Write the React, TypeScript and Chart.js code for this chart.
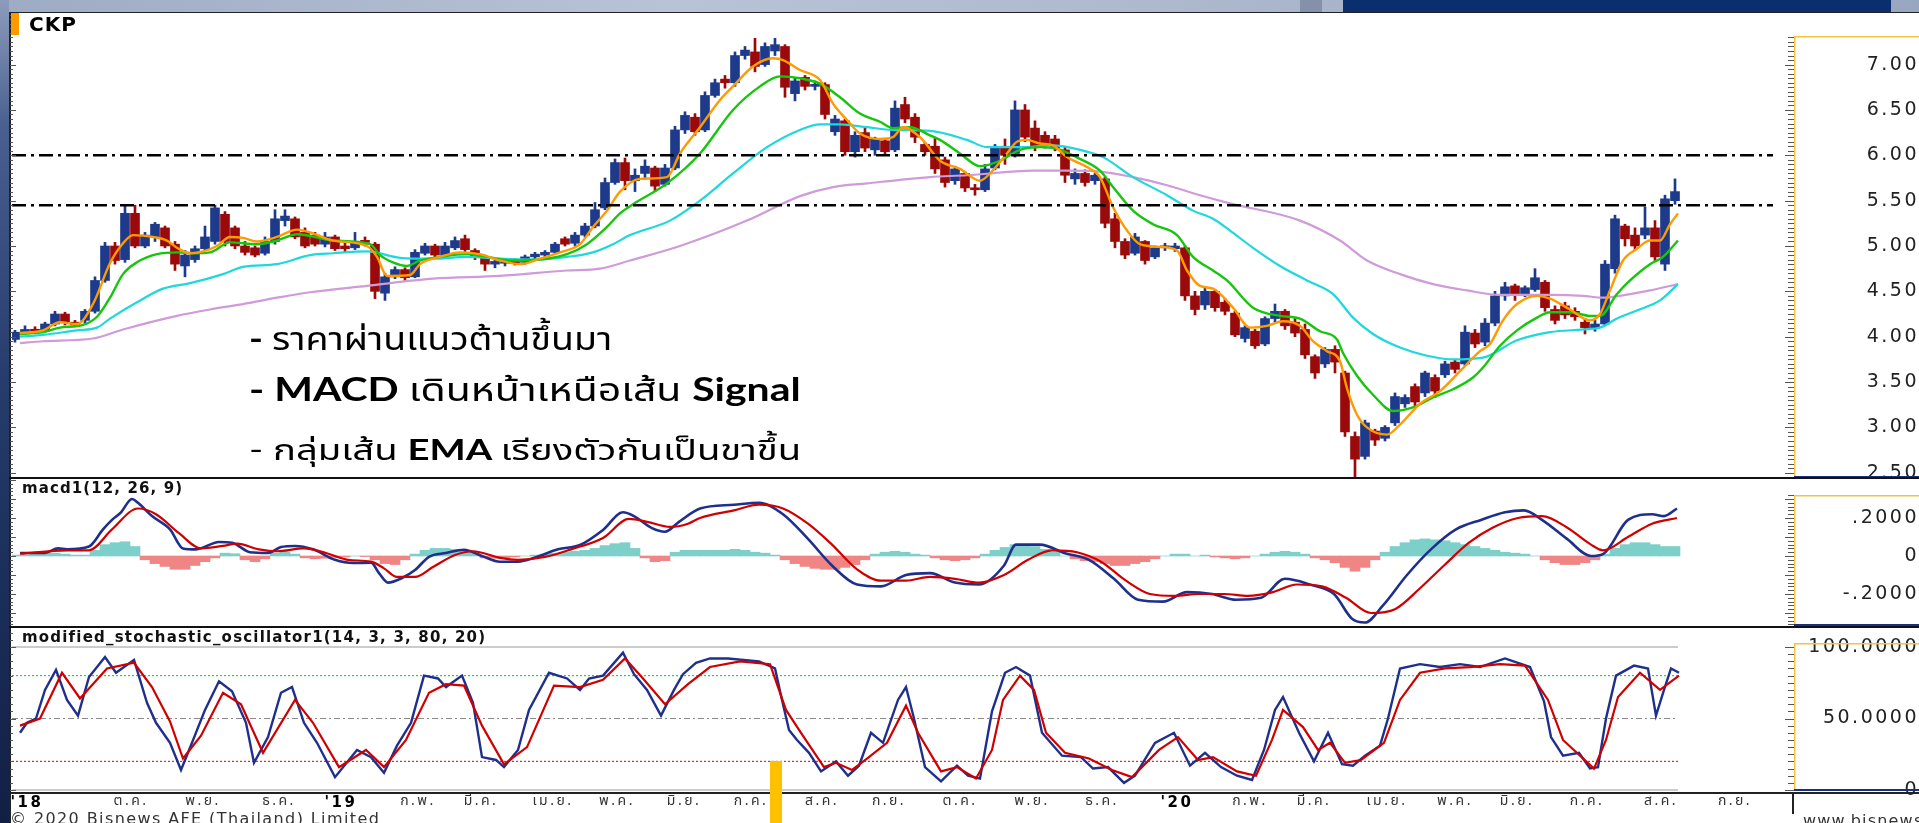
import React, { useEffect, useRef } from 'react';
import { Chart, registerables } from 'chart.js';

Chart.register(...registerables);

// ---------------- DATA ----------------
// candles: one candle per slot (slot ≈ 3 trading days), slot index = position on time axis
const candleOpen = [
  3.97, 4.05, 4.08, 4.06, 4.14, 4.25, 4.16, 4.18, 4.28, 4.62,
  5.0, 4.85, 5.36, 5.0, 5.1, 5.2, 5.02, 4.78, 4.85, 4.97,
  5.05, 5.35, 5.2, 5.0, 4.98, 4.92, 5.05, 5.28, 5.3, 5.15,
  5.12, 5.02, 5.1, 5.0, 4.98, 5.06, 5.02, 4.48, 4.66, 4.74,
  4.66, 4.92, 5.0, 4.9, 4.98, 5.08, 4.95, 4.88, 4.8, 4.81,
  4.84, 4.82, 4.88, 4.9, 4.93, 5.08, 5.03, 5.12, 5.22, 5.42,
  5.7, 5.92, 5.72, 5.8, 5.86, 5.68, 5.86, 6.28, 6.42, 6.28,
  6.66, 6.84, 6.8, 7.1, 7.14, 7.0, 7.15, 7.2, 6.68, 6.86,
  6.76, 6.78, 6.26, 6.38, 6.04, 6.25, 6.06, 6.16, 6.06, 6.56,
  6.42, 6.12, 6.1, 5.95, 5.72, 5.8, 5.64, 5.62, 5.86, 6.1,
  6.02, 6.5, 6.3, 6.22, 6.18, 6.06, 5.74, 5.8, 5.72, 5.74,
  5.3, 5.05, 4.92, 5.05, 4.88, 4.98, 4.97, 4.98, 4.45, 4.35,
  4.5, 4.38, 4.26, 3.98, 4.06, 3.92, 4.2, 4.28, 4.16, 4.08,
  3.78, 3.7, 3.86, 3.6, 2.9, 2.68, 2.96, 2.88, 3.05, 3.26,
  3.45, 3.38, 3.55, 3.58, 3.72, 3.7, 4.04, 3.94, 4.15, 4.45,
  4.56, 4.46, 4.52, 4.6, 4.3, 4.34, 4.28, 4.16, 4.1, 4.14,
  4.75, 5.22, 5.12, 5.12, 5.2, 4.8, 5.5,
];
const candleHigh = [
  4.07, 4.12, 4.11, 4.16, 4.28, 4.27, 4.18, 4.3, 4.66, 5.04,
  5.04, 5.45, 5.45, 5.15, 5.26, 5.22, 5.05, 4.95, 5.0, 5.22,
  5.45, 5.38, 5.22, 5.05, 5.0, 5.1, 5.4, 5.4, 5.32, 5.2,
  5.15, 5.15, 5.12, 5.05, 5.15, 5.1, 5.04, 4.7, 4.77, 4.76,
  4.96, 5.03, 5.02, 5.04, 5.1, 5.12, 4.97, 4.9, 4.86, 4.86,
  4.86, 4.9, 4.93, 4.95, 5.04, 5.1, 5.15, 5.25, 5.48, 5.75,
  5.96, 5.97, 5.85, 5.95, 5.88, 5.9, 6.32, 6.48, 6.46, 6.7,
  6.84, 6.88, 7.14, 7.2, 7.29, 7.24, 7.29, 7.22, 6.86, 6.88,
  6.82, 6.8, 6.44, 6.4, 6.26, 6.3, 6.2, 6.18, 6.6, 6.64,
  6.46, 6.14, 6.2, 5.98, 5.88, 5.82, 5.68, 5.9, 6.12, 6.18,
  6.6, 6.56, 6.38, 6.26, 6.22, 6.1, 5.85, 5.84, 5.8, 5.76,
  5.36, 5.08, 5.14, 5.06, 5.0, 5.03, 5.03, 5.0, 4.5, 4.55,
  4.52, 4.42, 4.28, 4.12, 4.08, 4.22, 4.36, 4.3, 4.2, 4.14,
  3.8, 3.88, 3.9, 3.62, 2.95, 3.08, 2.98, 3.02, 3.38, 3.36,
  3.48, 3.62, 3.58, 3.73, 3.74, 4.12, 4.08, 4.2, 4.5, 4.6,
  4.58, 4.56, 4.75, 4.62, 4.34, 4.38, 4.32, 4.2, 4.18, 4.84,
  5.34, 5.24, 5.2, 5.43, 5.28, 5.56, 5.74,
];
const candleLow = [
  3.94, 4.03, 4.04, 4.05, 4.12, 4.13, 4.11, 4.15, 4.26, 4.6,
  4.8, 4.82, 4.98, 4.98, 5.05, 4.98, 4.73, 4.66, 4.82, 4.95,
  5.02, 5.0, 4.97, 4.9, 4.88, 4.9, 5.02, 5.22, 5.08, 4.98,
  5.0, 4.99, 4.95, 4.93, 4.96, 5.0, 4.42, 4.4, 4.64, 4.62,
  4.65, 4.9, 4.87, 4.88, 4.96, 4.94, 4.85, 4.73, 4.76, 4.78,
  4.79, 4.8, 4.86, 4.88, 4.91, 5.0, 5.0, 5.1, 5.2, 5.4,
  5.68, 5.62, 5.6, 5.74, 5.6, 5.66, 5.84, 6.24, 6.22, 6.26,
  6.64, 6.74, 6.76, 7.06, 6.92, 6.98, 7.1, 6.64, 6.6, 6.72,
  6.72, 6.4, 6.22, 6.0, 5.98, 6.04, 6.0, 6.0, 6.04, 6.36,
  6.14, 6.0, 5.8, 5.65, 5.68, 5.6, 5.56, 5.6, 5.84, 5.9,
  5.98, 6.15, 6.05, 6.08, 6.05, 5.7, 5.68, 5.66, 5.68, 5.2,
  4.98, 4.86, 4.9, 4.8, 4.86, 4.95, 4.94, 4.4, 4.24, 4.3,
  4.28, 4.24, 4.0, 3.94, 3.87, 3.9, 4.16, 4.08, 4.0, 3.76,
  3.54, 3.66, 3.6, 2.9, 2.44, 2.65, 2.8, 2.85, 3.02, 3.22,
  3.24, 3.34, 3.33, 3.55, 3.6, 3.68, 3.88, 3.9, 4.12, 4.4,
  4.4, 4.44, 4.5, 4.28, 4.14, 4.2, 4.18, 4.03, 4.06, 4.12,
  4.7, 5.0, 4.96, 5.08, 4.84, 4.73, 5.46,
];
const candleClose = [
  4.05, 4.08, 4.06, 4.14, 4.25, 4.16, 4.13, 4.28, 4.62, 5.0,
  4.84, 5.36, 5.0, 5.12, 5.24, 5.0, 4.8, 4.9, 4.97, 5.1,
  5.42, 5.05, 5.0, 4.93, 4.9, 5.05, 5.3, 5.33, 5.1, 5.0,
  5.02, 5.1, 4.97, 4.97, 5.05, 5.04, 4.5, 4.66, 4.74, 4.65,
  4.93, 5.0, 4.9, 5.0, 5.06, 4.96, 4.88, 4.8, 4.83, 4.84,
  4.81, 4.88, 4.91, 4.93, 5.02, 5.02, 5.12, 5.22, 5.4, 5.7,
  5.92, 5.72, 5.78, 5.88, 5.66, 5.86, 6.28, 6.44, 6.26, 6.66,
  6.8, 6.8, 7.1, 7.16, 6.98, 7.2, 7.22, 6.75, 6.82, 6.76,
  6.78, 6.45, 6.4, 6.04, 6.22, 6.08, 6.18, 6.04, 6.52, 6.4,
  6.2, 6.04, 5.85, 5.7, 5.85, 5.64, 5.62, 5.85, 6.08, 6.0,
  6.5, 6.2, 6.1, 6.12, 6.08, 5.78, 5.8, 5.7, 5.78, 5.25,
  5.05, 4.9, 5.1, 4.84, 4.98, 5.0, 5.0, 4.45, 4.3, 4.5,
  4.32, 4.28, 4.02, 4.1, 3.9, 4.2, 4.28, 4.12, 4.04, 3.8,
  3.6, 3.86, 3.72, 2.95, 2.65, 3.05, 2.86, 3.0, 3.34, 3.33,
  3.28, 3.6, 3.4, 3.7, 3.64, 4.05, 3.92, 4.15, 4.45, 4.55,
  4.46, 4.54, 4.65, 4.32, 4.18, 4.24, 4.22, 4.1, 4.14, 4.8,
  5.3, 5.08, 5.0, 5.2, 4.88, 5.52, 5.6,
];

// moving averages: [time (slot units), price]
const emaFast = [
  [0.5, 4.04], [2.8, 4.07], [4.5, 4.16], [6.2, 4.14], [7.8, 4.36], [9.5, 4.81], [10.8, 5.03], [11.8, 5.12], [13.8, 5.1], [15.2, 5.06],
  [16.2, 4.98], [17.5, 4.92], [18.8, 4.94], [20.2, 5.0], [21.5, 5.1], [22.8, 5.09], [24.2, 5.05], [26.2, 5.1], [28.2, 5.18], [29.5, 5.15],
  [31.8, 5.06], [35.2, 5.0], [36.2, 4.88], [37.2, 4.67], [39.5, 4.68], [40.5, 4.8], [42.5, 4.88], [44.5, 4.93], [46.5, 4.91], [48.5, 4.84],
  [50.5, 4.8], [52.5, 4.86], [54.5, 4.93], [56.5, 5.02], [57.8, 5.21], [59.2, 5.39], [60.5, 5.6], [62.5, 5.74], [65.2, 5.76], [66.5, 6.02],
  [68.5, 6.31], [70.5, 6.61], [71.8, 6.76], [73.8, 6.98], [75.8, 7.07], [76.8, 7.05], [78.5, 6.94], [80.5, 6.83], [81.8, 6.57], [83.2, 6.39],
  [84.5, 6.24], [86.5, 6.18], [87.8, 6.2], [88.8, 6.31], [90.5, 6.2], [92.5, 5.94], [94.5, 5.85], [96.5, 5.72], [97.5, 5.8], [99.2, 6.02],
  [100.2, 6.15], [101.2, 6.17], [102.5, 6.13], [103.8, 6.11], [105.2, 5.98], [107.2, 5.87], [108.5, 5.76], [109.8, 5.43], [111.2, 5.17], [112.5, 5.02],
  [114.5, 4.99], [116.2, 4.95], [117.2, 4.73], [118.5, 4.56], [119.8, 4.53], [121.8, 4.32], [123.5, 4.1], [125.2, 4.12], [126.8, 4.17], [128.5, 4.12],
  [129.8, 3.95], [131.2, 3.84], [132.5, 3.73], [133.2, 3.43], [134.2, 3.14], [135.2, 3.0], [137.2, 2.92], [138.5, 3.03], [140.5, 3.26], [142.5, 3.4],
  [144.5, 3.62], [146.5, 3.84], [147.5, 3.92], [148.8, 4.18], [150.2, 4.36], [152.2, 4.45], [153.5, 4.42], [155.5, 4.3], [157.5, 4.18], [158.5, 4.25],
  [159.5, 4.51], [160.8, 4.84], [162.2, 4.97], [163.5, 5.06], [164.5, 5.06], [165.5, 5.24], [166.3, 5.36],
];
const emaMid = [
  [0.5, 4.03], [2.8, 4.05], [4.5, 4.1], [6.8, 4.13], [8.2, 4.22], [9.5, 4.43], [10.8, 4.69], [12.2, 4.82], [14.2, 4.91], [16.2, 4.93],
  [17.8, 4.92], [19.5, 4.93], [21.5, 5.04], [24.2, 5.02], [26.2, 5.06], [28.2, 5.13], [31.8, 5.06], [35.5, 5.02], [36.5, 4.9], [37.8, 4.82],
  [39.2, 4.78], [40.5, 4.84], [42.5, 4.88], [45.2, 4.91], [47.2, 4.88], [49.8, 4.84], [53.2, 4.86], [55.2, 4.91], [57.2, 5.02], [59.2, 5.21],
  [60.5, 5.36], [61.8, 5.46], [65.2, 5.69], [68.5, 6.02], [71.8, 6.5], [74.5, 6.76], [76.5, 6.87], [78.5, 6.85], [80.5, 6.79], [82.5, 6.64],
  [84.5, 6.46], [86.5, 6.37], [87.8, 6.3], [89.5, 6.31], [91.5, 6.22], [92.5, 6.17], [94.5, 6.02], [96.5, 5.88], [98.5, 5.94], [100.5, 6.06],
  [102.5, 6.09], [104.2, 6.07], [106.5, 5.96], [108.5, 5.83], [109.8, 5.65], [111.8, 5.39], [113.8, 5.24], [116.2, 5.12], [117.8, 4.88], [119.8, 4.73],
  [121.2, 4.62], [123.8, 4.32], [126.5, 4.23], [128.5, 4.2], [130.5, 4.06], [132.2, 3.97], [132.8, 3.82], [134.2, 3.57], [135.8, 3.36], [137.8, 3.18],
  [139.8, 3.22], [141.8, 3.33], [143.8, 3.42], [145.8, 3.55], [146.8, 3.66], [148.5, 3.9], [150.2, 4.07], [152.2, 4.21], [153.5, 4.27], [155.5, 4.27],
  [157.5, 4.23], [158.5, 4.23], [160.2, 4.47], [161.5, 4.62], [163.5, 4.8], [164.8, 4.88], [166.3, 5.06],
];
const emaSlow = [
  [0.5, 4.0], [2.8, 4.02], [6.2, 4.07], [8.2, 4.1], [9.5, 4.2], [12.2, 4.38], [14.8, 4.53], [17.5, 4.59], [20.8, 4.69], [22.8, 4.77],
  [26.2, 4.8], [29.5, 4.9], [31.8, 4.92], [35.2, 4.94], [38.5, 4.87], [41.8, 4.86], [45.2, 4.88], [48.5, 4.86], [51.8, 4.85], [55.2, 4.88],
  [57.8, 4.93], [59.8, 5.02], [61.5, 5.12], [65.5, 5.28], [68.5, 5.5], [71.8, 5.8], [75.2, 6.09], [78.5, 6.28], [80.5, 6.34], [82.5, 6.34],
  [85.2, 6.31], [87.8, 6.28], [91.5, 6.27], [95.2, 6.17], [97.2, 6.09], [100.5, 6.09], [103.8, 6.11], [106.5, 6.06], [108.8, 5.98], [111.8, 5.76],
  [115.2, 5.56], [117.8, 5.39], [119.8, 5.3], [121.5, 5.17], [123.8, 4.98], [126.5, 4.78], [129.2, 4.62], [131.8, 4.47], [133.8, 4.21], [135.8, 4.03],
  [138.5, 3.88], [141.2, 3.79], [143.8, 3.75], [146.8, 3.77], [150.2, 3.96], [153.5, 4.05], [156.8, 4.08], [158.5, 4.1], [160.2, 4.2], [162.2, 4.29],
  [164.5, 4.4], [166.3, 4.58],
];
const emaLong = [
  [0.5, 3.93], [2.8, 3.95], [7.8, 3.98], [10.8, 4.08], [16.2, 4.23], [19.5, 4.3], [22.8, 4.36], [26.2, 4.43], [29.5, 4.49], [35.2, 4.56],
  [41.8, 4.64], [48.5, 4.67], [55.2, 4.73], [58.5, 4.75], [61.5, 4.84], [66.5, 5.0], [73.2, 5.28], [78.5, 5.55], [81.8, 5.65], [85.2, 5.69],
  [88.5, 5.73], [91.5, 5.76], [95.2, 5.78], [101.8, 5.83], [105.2, 5.83], [108.5, 5.82], [111.8, 5.76], [115.2, 5.67], [118.5, 5.56], [121.5, 5.47],
  [128.5, 5.28], [132.5, 5.06], [135.2, 4.84], [138.5, 4.69], [141.8, 4.58], [145.2, 4.51], [148.5, 4.46], [153.5, 4.46], [156.8, 4.45], [158.8, 4.43],
  [161.5, 4.47], [163.5, 4.51], [166.3, 4.58],
];

const resistanceLevels = [6.0, 5.45];
const resistanceEnd = 175.8;
const priceTicks = [2.5, 3.0, 3.5, 4.0, 4.5, 5.0, 5.5, 6.0, 6.5, 7.0];

const macdLine = [
  [0.5, 0.016], [3, 0.016], [4.3, 0.04], [5.2, 0.035], [7.4, 0.05], [8.8, 0.14], [9.7, 0.19], [10.6, 0.23], [11.7, 0.3], [12.3, 0.28],
  [13.7, 0.21], [15.5, 0.14], [16.8, 0.04], [18.1, 0.035], [20.4, 0.074], [21.7, 0.07], [23.5, 0.02], [25.3, 0.016], [26.6, 0.047], [28, 0.053],
  [29.8, 0.035], [32, -0.02], [33.8, -0.037], [35.6, -0.035], [36.4, -0.09], [37.3, -0.14], [38.7, -0.116], [40, -0.074], [41.4, -0.004], [43.1, 0.016],
  [44.9, 0.033], [46.7, 0.0], [48.5, -0.03], [50.3, -0.03], [52.1, -0.006], [54.3, 0.035], [56.5, 0.058], [58.8, 0.137], [60.8, 0.23], [61.9, 0.21],
  [63.7, 0.147], [65, 0.128], [66.4, 0.18], [68.5, 0.25], [71.9, 0.27], [74.4, 0.28], [76.8, 0.22], [79.3, 0.09], [81.7, -0.05], [84.2, -0.15],
  [86.6, -0.16], [89.1, -0.1], [91.5, -0.09], [94, -0.14], [96.4, -0.15], [98.9, -0.05], [100.1, 0.06], [102.5, 0.06], [105, 0.015], [107.4, -0.02],
  [109.9, -0.12], [112.3, -0.23], [114.8, -0.24], [117.2, -0.19], [119.7, -0.2], [122.1, -0.23], [124.6, -0.22], [127, -0.12], [129.5, -0.15], [131.9, -0.2],
  [133.7, -0.33], [135, -0.35], [136.8, -0.26], [139.2, -0.1], [141.7, 0.04], [144.1, 0.14], [146.6, 0.19], [149, 0.23], [150.9, 0.24], [152.7, 0.19],
  [155.2, 0.09], [157.6, 0.0], [158.8, 0.01], [161.3, 0.19], [163.7, 0.22], [164.9, 0.21], [166.2, 0.25],
];
const macdSignal = [
  [0.5, 0.012], [5.2, 0.03], [7.4, 0.03], [9.7, 0.14], [12.3, 0.25], [14.1, 0.22], [16.4, 0.12], [18.6, 0.04], [20.8, 0.053], [22.2, 0.065],
  [24.4, 0.035], [26.2, 0.025], [28.9, 0.04], [31.1, 0.016], [33.3, -0.02], [35.6, -0.03], [36.9, -0.065], [38.2, -0.11], [40, -0.11], [41.8, -0.058],
  [44, 0.005], [45.8, 0.025], [48.5, -0.01], [50.3, -0.02], [53, -0.005], [55.6, 0.035], [58.8, 0.095], [61.4, 0.195], [63.2, 0.18], [65.5, 0.153],
  [67.3, 0.17], [68.5, 0.2], [71.9, 0.24], [74.4, 0.27], [76.8, 0.25], [79.3, 0.17], [81.7, 0.06], [84.2, -0.07], [86.6, -0.13], [89.1, -0.13],
  [91.5, -0.11], [94, -0.12], [96.4, -0.14], [98.9, -0.1], [101.3, -0.02], [103.7, 0.03], [106.2, 0.02], [108.6, -0.03], [111.1, -0.13], [113.5, -0.2],
  [116, -0.21], [118.4, -0.2], [120.9, -0.2], [123.3, -0.21], [125.8, -0.19], [128.2, -0.15], [130.7, -0.16], [133.1, -0.22], [135.6, -0.3], [138, -0.28],
  [140.5, -0.17], [142.9, -0.05], [145.4, 0.07], [147.8, 0.15], [150.3, 0.2], [152.7, 0.21], [155.2, 0.15], [157.6, 0.06], [158.8, 0.03], [161.3, 0.1],
  [163.7, 0.17], [166.2, 0.2],
];
const macdHist = [
  0.005, 0.005, 0.01, 0.015, 0.015, 0.01, 0.005, 0.005, 0.03, 0.06,
  0.07, 0.075, 0.05, -0.02, -0.04, -0.055, -0.07, -0.07, -0.05, -0.03,
  -0.01, 0.015, 0.012, -0.02, -0.03, -0.015, 0.015, 0.02, 0.01, -0.01,
  -0.015, -0.012, -0.008, -0.005, 0.0, -0.003, -0.02, -0.04, -0.045, -0.02,
  0.01, 0.03, 0.04, 0.04, 0.035, 0.025, 0.015, -0.01, -0.012, -0.01,
  -0.005, 0.0, 0.005, 0.01, 0.015, 0.02, 0.025, 0.03, 0.04, 0.055,
  0.065, 0.07, 0.04, -0.01, -0.03, -0.025, 0.02, 0.03, 0.03, 0.03,
  0.03, 0.03, 0.035, 0.03, 0.02, 0.015, 0.005, -0.02, -0.04, -0.055,
  -0.065, -0.07, -0.07, -0.06, -0.045, -0.02, 0.01, 0.02, 0.025, 0.02,
  0.01, 0.005, -0.01, -0.02, -0.025, -0.02, -0.01, 0.01, 0.03, 0.045,
  0.06, 0.06, 0.05, 0.035, 0.02, 0.0, -0.015, -0.025, -0.03, -0.04,
  -0.05, -0.05, -0.04, -0.03, -0.015, 0.0, 0.01, 0.01, 0.0, 0.005,
  -0.005, -0.01, -0.015, -0.01, 0.0, 0.01, 0.02, 0.025, 0.02, 0.01,
  -0.01, -0.02, -0.035, -0.06, -0.08, -0.06, -0.02, 0.02, 0.05, 0.07,
  0.085, 0.09, 0.085, 0.08, 0.07, 0.06, 0.05, 0.04, 0.03, 0.02,
  0.015, 0.01, 0.0, -0.02, -0.035, -0.045, -0.045, -0.035, -0.02, 0.01,
  0.04, 0.06, 0.07, 0.07, 0.06, 0.05, 0.05,
];
const macdTicks = [-0.2, 0, 0.2];

const stochK = [
  [0.5, 40], [1.2, 47], [2.1, 50], [3, 70], [4.1, 84], [5.2, 63], [6.3, 52], [7.4, 79], [9, 93], [10.1, 82],
  [11.9, 91], [13.2, 61], [14.1, 47], [15.5, 33], [16.6, 14], [17.7, 33], [19, 56], [20.4, 76], [21.7, 69], [23.1, 47],
  [23.9, 19], [25.3, 37], [26.6, 68], [27.7, 72], [28.9, 47], [30.2, 33], [32, 9], [34.2, 28], [35.6, 23], [36.9, 12],
  [38.2, 31], [39.6, 47], [40.9, 80], [42.3, 78], [43.1, 72], [44.7, 80], [45.8, 61], [46.7, 23], [48.1, 21], [48.9, 16],
  [50.3, 28], [51.4, 56], [53.4, 82], [55.2, 78], [56.5, 70], [57.4, 78], [58.8, 80], [60.8, 96], [61.9, 81], [63.2, 70],
  [64.6, 52], [65.9, 70], [66.8, 81], [68.1, 89], [69.5, 92], [71.3, 92], [74.4, 90], [76, 85], [76.7, 63], [77.4, 42],
  [78.2, 35], [79.4, 26], [80.6, 13], [82.1, 20], [83.3, 10], [84.4, 17], [85.6, 40], [86.8, 33], [88.3, 63], [89.1, 72],
  [89.9, 50], [91, 16], [92.6, 6], [94.2, 17], [95.3, 10], [96.5, 8], [97.7, 55], [99, 82], [100.1, 86], [101.5, 80],
  [102.7, 40], [104.7, 24], [106.6, 23], [107.8, 15], [109.3, 16], [110.9, 5], [112, 10], [114, 33], [115.9, 40], [117.5, 17],
  [119, 26], [120.6, 16], [122.2, 10], [123.7, 7], [124.9, 28], [126, 56], [126.8, 65], [128.4, 40], [129.9, 20], [131.3, 40],
  [132.7, 18], [133.8, 17], [135, 24], [136.5, 31], [137.3, 50], [138.5, 85], [140.5, 88], [142.5, 86], [144.5, 88], [146.5, 86],
  [149, 92], [151.5, 86], [152.9, 62], [153.6, 37], [154.8, 24], [156.4, 26], [157.5, 15], [158.3, 16], [159.1, 50], [160.1, 80],
  [161.9, 87], [163.3, 85], [164.1, 52], [164.9, 70], [165.6, 85], [166.4, 82],
];
const stochD = [
  [0.5, 45], [2.5, 50], [4.7, 82], [6.5, 64], [9.2, 85], [11.9, 89], [13.7, 72], [15.5, 48], [16.8, 22], [18.6, 38],
  [20.8, 68], [22.6, 60], [24.8, 26], [28, 63], [29.8, 47], [32.4, 16], [35.1, 28], [36.9, 16], [39.1, 35], [41.4, 68],
  [43.1, 74], [44.9, 73], [46.7, 45], [48.9, 18], [51.2, 30], [53.9, 73], [56.5, 72], [58.8, 77], [61, 92], [62.8, 78],
  [65, 60], [67.3, 74], [69.5, 86], [72.5, 90], [75.5, 88], [77.1, 56], [78.6, 40], [80.9, 16], [82.1, 19], [83.7, 14],
  [85.2, 22], [87.2, 33], [89.1, 59], [90.3, 40], [92.6, 13], [94.2, 16], [96.1, 8], [97.7, 28], [98.8, 63], [100.5, 80],
  [101.9, 70], [103.1, 40], [105, 26], [107.4, 22], [109.7, 14], [111.7, 9], [114.4, 28], [116.3, 37], [118.3, 21], [119.8, 23],
  [122.2, 13], [124.1, 10], [125.7, 35], [126.8, 56], [128.8, 44], [130.3, 28], [131.5, 33], [133, 19], [134.6, 21], [136.9, 33],
  [138.5, 63], [140.5, 82], [143, 85], [145.5, 86], [148.5, 88], [151, 87], [153.3, 63], [154.8, 35], [157.9, 15], [159.1, 35],
  [160.3, 65], [162.5, 82], [164.5, 70], [166.4, 80],
];
const stochTicks = [0, 50, 100];
const stochLevels = [100, 80, 50, 20, 0];
const stochEnd = 166.3;

const monthLabels = ["'18", 'ต.ค.', 'พ.ย.', 'ธ.ค.', "'19", 'ก.พ.', 'มี.ค.', 'เม.ย.', 'พ.ค.', 'มิ.ย.', 'ก.ค.', 'ส.ค.', 'ก.ย.', 'ต.ค.', 'พ.ย.', 'ธ.ค.', "'20", 'ก.พ.', 'มี.ค.', 'เม.ย.', 'พ.ค.', 'มิ.ย.', 'ก.ค.', 'ส.ค.', 'ก.ย.'];
const monthPos = [1.2, 11.6, 18.8, 26.4, 32.6, 40.3, 46.6, 53.8, 60.2, 66.9, 73.6, 80.7, 87.4, 94.5, 101.7, 108.7, 116.2, 123.5, 129.9, 137.2, 144, 150.2, 157.2, 164.6, 172];

// ---------------- STYLE / LAYOUT ----------------
const X_MIN = -0.3;
const X_MAX = 177;
const THAI = "'Noto Sans Thai', 'Noto Sans Thai UI', Loma, Garuda, Waree, Umpush, Kinnari, sans-serif";
const AXIS_FONT = { family: 'DejaVu Sans', size: 19 };
const LETTER = 2.5;

function widest(labels: string[]) {
  const c = document.createElement('canvas').getContext('2d') as CanvasRenderingContext2D;
  c.font = `${AXIS_FONT.size}px ${AXIS_FONT.family}`;
  return Math.max(...labels.map((l) => c.measureText(l).width));
}

function rightAxis(min: number, max: number, tickVals: number[], fmt: (v: number) => string) {
  const w = widest(tickVals.map(fmt));
  return {
    type: 'linear',
    position: 'right',
    min,
    max,
    grid: { display: false, drawTicks: false },
    border: { display: false },
    afterFit: (s: any) => {
      s.width = 134;
      s.paddingTop = 0;
      s.paddingBottom = 0;
    },
    afterBuildTicks: (s: any) => { s.ticks = tickVals.map((v) => ({ value: v })); },
    ticks: { crossAlign: 'far', padding: 131 - w, font: AXIS_FONT, color: '#222', callback: (v: any) => fmt(Number(v)) },
  };
}

function hiddenX() {
  return { type: 'linear', min: X_MIN, max: X_MAX, offset: false, display: false, grid: { display: false } };
}

const spacingPlugin = {
  id: 'letterSpacing',
  beforeDraw(chart: any) { chart.ctx.letterSpacing = LETTER + 'px'; },
  afterDraw(chart: any) { chart.ctx.letterSpacing = '0px'; },
};

function edgeDeco(step: number, major: number, frameTop: number) {
  return {
    id: 'edgeDeco',
    afterDraw(chart: any) {
      const { ctx, chartArea: ca, width } = chart;
      const ys = chart.scales.y;
      ctx.save();
      ctx.strokeStyle = '#555';
      ctx.lineWidth = 1;
      const i0 = Math.ceil(ys.min / step - 1e-9);
      const i1 = Math.floor(ys.max / step + 1e-9);
      ctx.beginPath();
      for (let i = i0; i <= i1; i++) {
        const v = i * step;
        const y = Math.round(ys.getPixelForValue(v)) + 0.5;
        const isMajor = Math.abs(Math.round(v / major) * major - v) < step / 10;
        ctx.moveTo(0, y);
        ctx.lineTo(isMajor ? 6 : 3, y);
        if (y >= frameTop && y <= ca.bottom) {
          ctx.moveTo(ca.right + (isMajor ? 0 : 3), y);
          ctx.lineTo(ca.right + 9, y);
        }
      }
      ctx.stroke();
      ctx.strokeStyle = '#f2c440';
      ctx.lineWidth = 1.5;
      ctx.beginPath();
      ctx.moveTo(ca.right + 9.75, frameTop);
      ctx.lineTo(ca.right + 9.75, ca.bottom);
      ctx.moveTo(ca.right + 9, frameTop + 0.75);
      ctx.lineTo(width, frameTop + 0.75);
      ctx.stroke();
      ctx.strokeStyle = '#1b2f7a';
      ctx.lineWidth = 2;
      ctx.beginPath();
      ctx.moveTo(ca.right + 9, ca.bottom - 1);
      ctx.lineTo(width, ca.bottom - 1);
      ctx.stroke();
      ctx.restore();
    },
  };
}

function lineDs(pts: number[][], color: string, width: number, extra: any = {}) {
  return {
    type: 'line',
    data: pts.map(([x, y]) => ({ x, y })),
    borderColor: color,
    borderWidth: width,
    pointRadius: 0,
    fill: false,
    cubicInterpolationMode: 'monotone',
    ...extra,
  };
}

const baseOptions = {
  responsive: false,
  maintainAspectRatio: false,
  animation: false,
  devicePixelRatio: 1,
  events: [],
  plugins: { legend: { display: false }, tooltip: { enabled: false } },
};

export default function App() {
  const aRef = useRef<HTMLCanvasElement>(null);
  const bRef = useRef<HTMLCanvasElement>(null);
  const cRef = useRef<HTMLCanvasElement>(null);

  useEffect(() => {
    Chart.defaults.font.family = 'DejaVu Sans';
    const charts: any[] = [];

    // ---- price panel ----
    const candleColor = candleOpen.map((o, i) => {
      const c = candleClose[i];
      if (Math.abs(c - o) < 0.005) return '#4a4a4a';
      return c > o ? '#1e3a8a' : '#9a0a0a';
    });
    const bodies = candleOpen.map((o, i) => ({ x: i, y: [o, candleClose[i]] }));
    const wicks = candleLow.map((l, i) => ({ x: i, y: [l, candleHigh[i]] }));
    charts.push(
      new Chart(aRef.current as HTMLCanvasElement, {
        type: 'bar',
        data: {
          datasets: [
            ...resistanceLevels.map((lv) =>
              lineDs([[X_MIN, lv], [resistanceEnd, lv]], '#000', 2.5, { borderDash: [14, 5, 3, 5], cubicInterpolationMode: 'default' })
            ),
            lineDs(emaFast, '#ff9a00', 2.4),
            lineDs(emaMid, '#16c60c', 2.4),
            lineDs(emaSlow, '#1dd8dc', 2.2),
            lineDs(emaLong, '#cf9bd8', 2.2),
            { type: 'bar', data: bodies, backgroundColor: candleColor, barThickness: 9, grouped: false, minBarLength: 2 },
            { type: 'bar', data: wicks, backgroundColor: candleColor, barThickness: 2, grouped: false },
          ],
        } as any,
        options: {
          ...baseOptions,
          layout: { padding: { left: 2, right: 0, top: 0, bottom: 0 } },
          scales: {
            x: hiddenX(),
            y: rightAxis(2.442, 7.569, priceTicks, (v) => v.toFixed(2)),
          },
        } as any,
        plugins: [spacingPlugin, edgeDeco(0.05, 0.5, 23)],
      })
    );

    // ---- MACD panel ----
    const histColor = macdHist.map((v) => (v >= 0 ? '#7dcfca' : '#f08585'));
    charts.push(
      new Chart(bRef.current as HTMLCanvasElement, {
        type: 'bar',
        data: {
          datasets: [
            lineDs(macdSignal, '#d00000', 2.2),
            lineDs(macdLine, '#1f2f8c', 2.6),
            { type: 'bar', data: macdHist.map((v, i) => ({ x: i, y: v })), backgroundColor: histColor, barThickness: 10, grouped: false },
          ],
        } as any,
        options: {
          ...baseOptions,
          layout: { padding: { left: 2, right: 0, top: 0, bottom: 0 } },
          scales: {
            x: hiddenX(),
            y: rightAxis(-0.3684, 0.4, macdTicks, (v) =>
              v === 0 ? '0' : (v < 0 ? '-' : '') + Math.abs(v).toFixed(4).replace(/^0/, '')
            ),
          },
        } as any,
        plugins: [spacingPlugin, edgeDeco(0.02, 0.1, 15)],
      })
    );

    // ---- stochastic panel ----
    const levelStyle: Record<number, any> = {
      100: { color: '#9a9a9a', dash: [] },
      80: { color: '#22dd22', dash: [2, 2] },
      50: { color: '#8a8a8a', dash: [6, 3, 2, 3] },
      20: { color: '#ff2020', dash: [2, 2] },
      0: { color: '#9a9a9a', dash: [] },
    };
    charts.push(
      new Chart(cRef.current as HTMLCanvasElement, {
        type: 'line',
        data: {
          datasets: [
            lineDs(stochD, '#d00000', 2.2, { cubicInterpolationMode: 'default' }),
            lineDs(stochK, '#1f2f8c', 2.4, { cubicInterpolationMode: 'default' }),
            ...stochLevels.map((lv) =>
              lineDs([[X_MIN, lv], [stochEnd, lv]], levelStyle[lv].color, 1.2, { borderDash: levelStyle[lv].dash, cubicInterpolationMode: 'default' })
            ),
          ],
        } as any,
        options: {
          ...baseOptions,
          layout: { padding: { left: 2, right: 0, top: 0, bottom: 0 } },
          scales: {
            x: {
              type: 'linear',
              min: X_MIN,
              max: X_MAX,
              offset: false,
              position: 'bottom',
              grid: { display: false, drawTicks: false },
              border: { display: false },
              afterBuildTicks: (s: any) => { s.ticks = monthPos.map((v) => ({ value: v })); },
              afterFit: (s: any) => {
                s.height = 22;
                s.paddingLeft = 0;
                s.paddingRight = 0;
              },
              ticks: {
                autoSkip: false,
                maxRotation: 0,
                minRotation: 0,
                padding: 3,
                color: (c: any) => (String(monthLabels[c.index] || '').startsWith("'") ? '#000' : '#333'),
                font: (c: any) =>
                  String(monthLabels[c.index] || '').startsWith("'")
                    ? { family: 'DejaVu Sans', size: 15, weight: 'bold' }
                    : { family: THAI, size: 14 },
                callback: (_v: any, i: number) => monthLabels[i],
              },
            },
            y: rightAxis(-0.7, 112.6, stochTicks, (v) => (v === 0 ? '0' : v.toFixed(4))),
          },
        } as any,
        plugins: [spacingPlugin, edgeDeco(5, 50, 14)],
      })
    );

    return () => charts.forEach((c) => c.destroy());
  }, []);

  const abs = (s: any) => ({ position: 'absolute', ...s } as React.CSSProperties);

  return (
    <div style={abs({ left: 0, top: 0, width: 1919, height: 823, overflow: 'hidden', background: '#a9b5cb' })}>
      {/* slide background strips */}
      <div style={abs({ left: 0, top: 0, width: 1919, height: 13, background: 'linear-gradient(to right, #9eabc4 0%, #b9c3d6 35%, #aeb9ce 60%, #98a6c0 100%)' })} />
      <div style={abs({ left: 1300, top: 0, width: 22, height: 12, background: '#8591aa' })} />
      <div style={abs({ left: 1343, top: 0, width: 548, height: 14, background: '#0b2f6e' })} />
      <div style={abs({ left: 0, top: 0, width: 9, height: 823, background: 'linear-gradient(to bottom, #8d9cbc 0%, #4a6090 15%, #263d6d 45%, #1a2c58 75%, #121f45 100%)' })} />
      {/* white chart sheet */}
      <div style={abs({ left: 9, top: 12, width: 1910, height: 811, background: '#ffffff', borderTop: '1px solid #222', borderLeft: '2px solid #222', boxSizing: 'border-box' })} />

      <canvas ref={aRef} width={1909} height={465} style={abs({ left: 10, top: 13, width: 1909, height: 465 })} />
      <canvas ref={bRef} width={1909} height={146} style={abs({ left: 10, top: 480, width: 1909, height: 146 })} />
      <canvas ref={cRef} width={1909} height={184} style={abs({ left: 10, top: 629, width: 1909, height: 184 })} />

      {/* panel separators */}
      <div style={abs({ left: 9, top: 477, width: 1910, height: 2, background: '#111' })} />
      <div style={abs({ left: 9, top: 626, width: 1910, height: 2, background: '#111' })} />
      <div style={abs({ left: 9, top: 792, width: 1910, height: 2, background: '#222' })} />
      <div style={abs({ left: 1792, top: 792, width: 2, height: 22, background: '#222' })} />

      {/* titles */}
      <div style={abs({ left: 11, top: 13, width: 8, height: 22, background: '#ff9900' })} />
      <div style={abs({ left: 29, top: 14, font: 'bold 20px "DejaVu Sans"', lineHeight: '20px', letterSpacing: '1px', color: '#000' })}>CKP</div>
      <div style={abs({ left: 22, top: 481, font: 'bold 15px "DejaVu Sans"', lineHeight: '15px', letterSpacing: '1.1px', color: '#111', whiteSpace: 'nowrap' })}>macd1(12, 26, 9)</div>
      <div style={abs({ left: 22, top: 630, font: 'bold 15px "DejaVu Sans"', lineHeight: '15px', letterSpacing: '1.2px', color: '#111', whiteSpace: 'nowrap' })}>modified_stochastic_oscillator1(14, 3, 3, 80, 20)</div>

      {/* annotations */}
      <div style={abs({ left: 249, top: 322, fontSize: 32, lineHeight: '32px', color: '#000', whiteSpace: 'nowrap', transform: 'scaleX(1.17)', transformOrigin: 'left top' })}>
        <span style={{ fontFamily: 'Lato', fontWeight: 'bold' }}>- </span>
        <span style={{ fontFamily: THAI }}>ราคาผ่านแนวต้านขึ้นมา</span>
      </div>
      <div style={abs({ left: 249, top: 373, fontSize: 32, lineHeight: '32px', color: '#000', whiteSpace: 'nowrap', transform: 'scaleX(1.28)', transformOrigin: 'left top' })}>
        <span style={{ fontFamily: 'Lato', fontWeight: 'bold' }}>- MACD </span>
        <span style={{ fontFamily: THAI }}>เดินหน้าเหนือเส้น </span>
        <span style={{ fontFamily: 'Lato', fontWeight: 'bold' }}>Signal</span>
      </div>
      <div style={abs({ left: 249, top: 434, fontSize: 29, lineHeight: '29px', color: '#000', whiteSpace: 'nowrap', transform: 'scaleX(1.32)', transformOrigin: 'left top' })}>
        <span style={{ fontFamily: 'Lato' }}>- </span>
        <span style={{ fontFamily: THAI }}>กลุ่มเส้น </span>
        <span style={{ fontFamily: 'Lato', fontWeight: 'bold' }}>EMA </span>
        <span style={{ fontFamily: THAI }}>เรียงตัวกันเป็นขาขึ้น</span>
      </div>

      {/* footer */}
      <div style={abs({ left: 10, top: 811, font: '16px "DejaVu Sans"', lineHeight: '16px', letterSpacing: '1.4px', color: '#333', whiteSpace: 'nowrap' })}>© 2020 Bisnews AFE (Thailand) Limited</div>
      <div style={abs({ left: 1803, top: 813, font: '16px "DejaVu Sans"', lineHeight: '16px', letterSpacing: '1.2px', color: '#333', whiteSpace: 'nowrap' })}>www.bisnews.com</div>

      {/* highlight marker */}
      <div style={abs({ left: 770, top: 761, width: 12, height: 62, background: '#ffc000' })} />
    </div>
  );
}
